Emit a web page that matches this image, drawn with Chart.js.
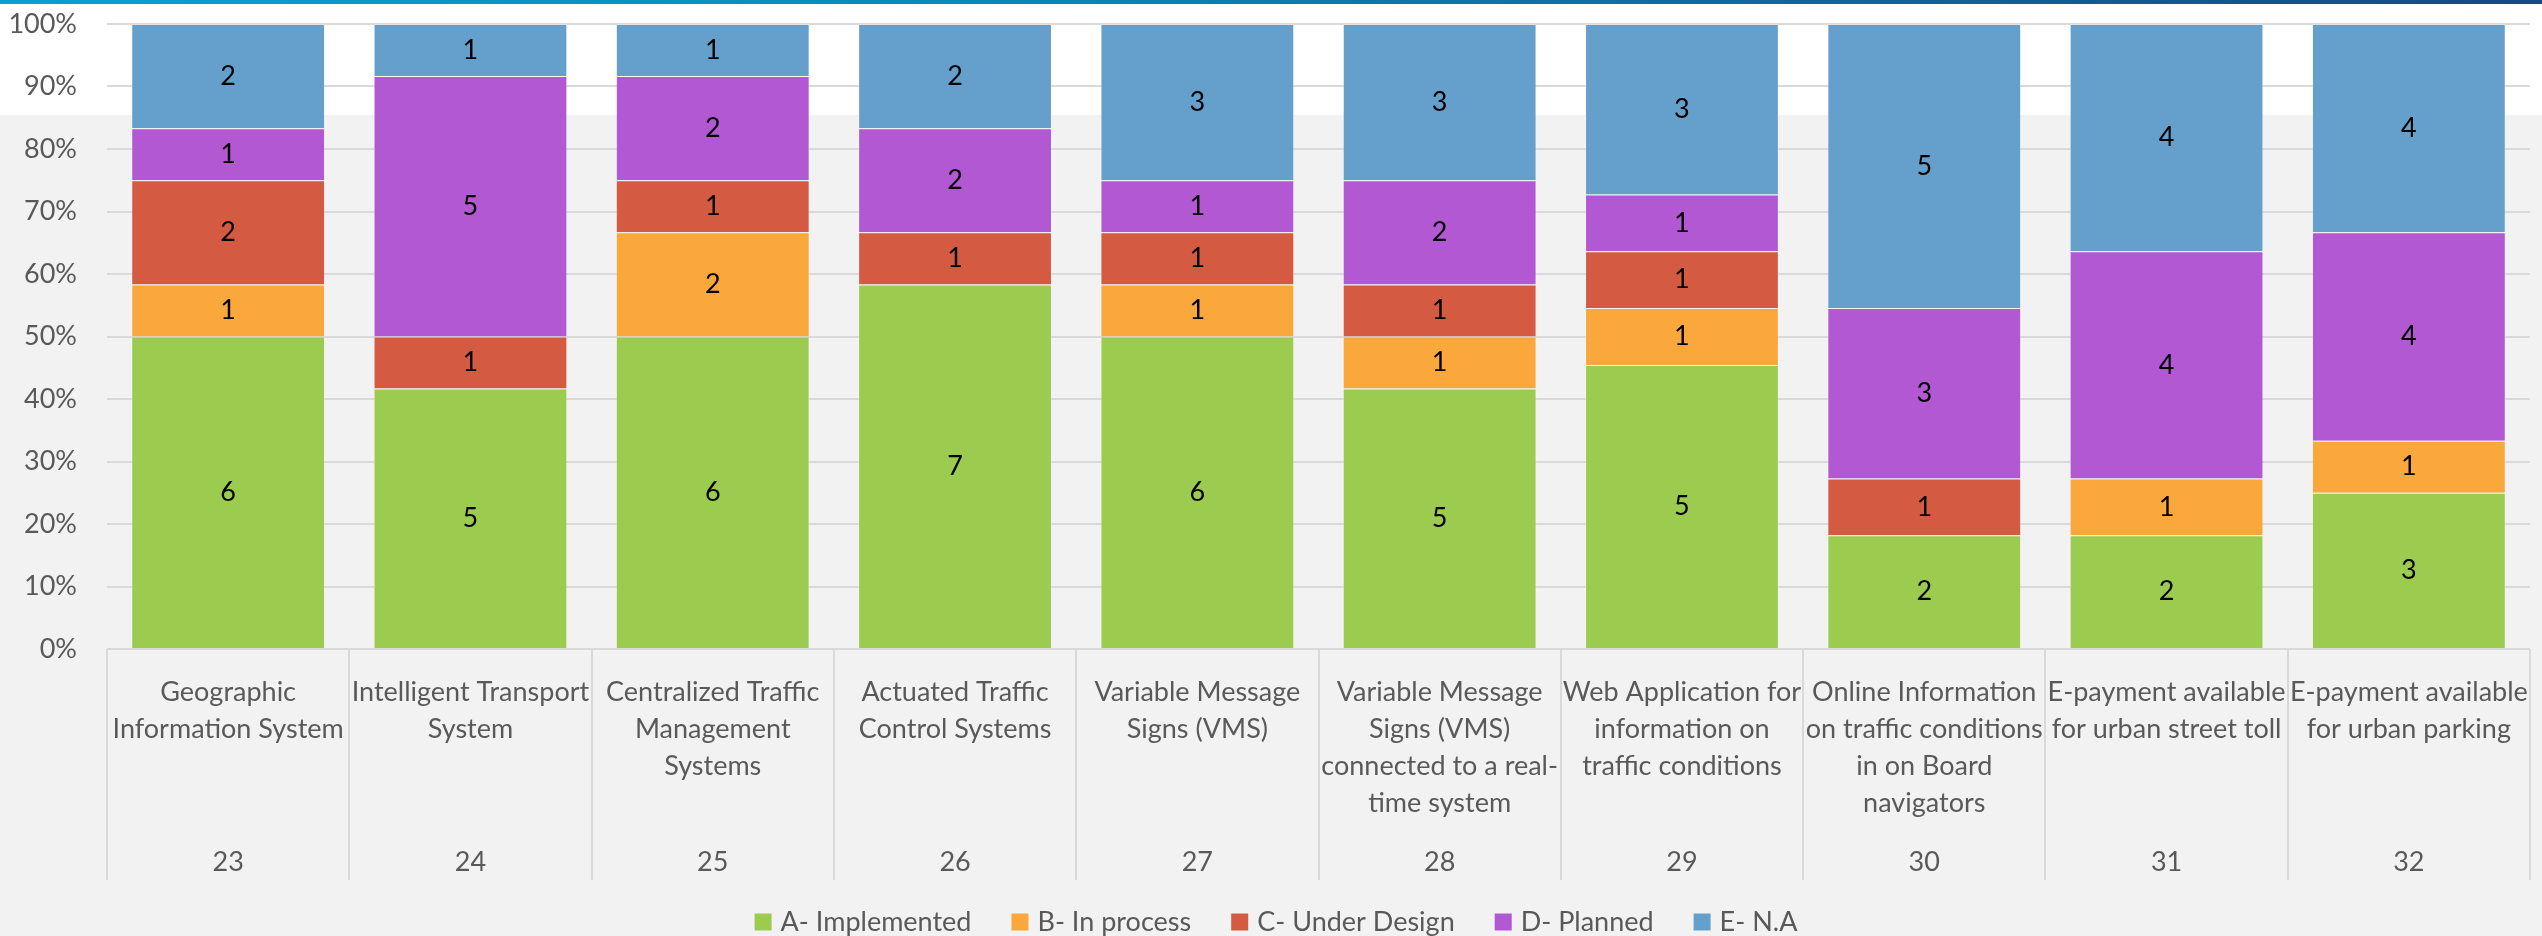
<!DOCTYPE html>
<html>
<head>
<meta charset="utf-8">
<title>Traffic systems status</title>
<script src="https://cdn.jsdelivr.net/npm/chart.js@4.4.1/dist/chart.umd.min.js"></script>
<style>
  html, body { margin: 0; padding: 0; }
  body {
    width: 2542px; height: 936px; overflow: hidden; position: relative;
    background: linear-gradient(to bottom, #ffffff 0, #ffffff 115px, #f2f2f2 115px, #f2f2f2 100%);
  }
  #topline {
    position: absolute; left: 0; top: 0; width: 100%; height: 4px;
    background: linear-gradient(to right, #0aa0d2, #0b8fc0 30%, #144a85);
  }
  #wrap { position: absolute; left: 0; top: 0; width: 2542px; height: 936px; }
</style>
</head>
<body>
<div id="topline"></div>
<div id="wrap"><canvas id="chart" width="2542" height="936"></canvas></div>
<script>
var numbers = ['23', '24', '25', '26', '27', '28', '29', '30', '31', '32'];
var names = [
	['Geographic', 'Information System'],
	['Intelligent Transport', 'System'],
	['Centralized Traffic', 'Management', 'Systems'],
	['Actuated Traffic', 'Control Systems'],
	['Variable Message', 'Signs (VMS)'],
	['Variable Message', 'Signs (VMS)', 'connected to a real-', 'time system'],
	['Web Application for', 'information on', 'traffic conditions'],
	['Online Information', 'on traffic conditions', 'in on Board', 'navigators'],
	['E-payment available', 'for urban street toll'],
	['E-payment available', 'for urban parking']
];

// number of answers per status
var implemented   = [6, 5, 6, 7, 6, 5, 5, 2, 2, 3];
var inProcess     = [1, 0, 2, 0, 1, 1, 1, 0, 1, 1];
var underDesign   = [2, 1, 1, 1, 1, 1, 1, 1, 0, 0];
var planned       = [1, 5, 2, 2, 1, 2, 1, 3, 4, 4];
var notApplicable = [2, 1, 1, 2, 3, 3, 3, 5, 4, 4];

var seriesNames = ['A- Implemented', 'B- In process', 'C- Under Design', 'D- Planned', 'E- N.A'];
var seriesColors = ['#9bcc4f', '#faa73c', '#d45a42', '#b158d2', '#64a0cb'];
var yTicks = [0, 10, 20, 30, 40, 50, 60, 70, 80, 90, 100];

var counts = [implemented, inProcess, underDesign, planned, notApplicable];
var FONT = 'Lato, "Noto Sans", sans-serif';

// share of each status within a category (100% stacked)
function toPercent(series) {
	return series.map(function(v, i) {
		var total = 0;
		counts.forEach(function(c) { total += c[i]; });
		return v / total * 100;
	});
}

var valueLabels = {
	id: 'valueLabels',
	afterDatasetsDraw: function(chart) {
		var ctx = chart.ctx;
		ctx.save();
		ctx.font = '27px ' + FONT;
		ctx.fillStyle = '#000';
		ctx.textAlign = 'center';
		ctx.textBaseline = 'middle';
		chart.data.datasets.forEach(function(ds, d) {
			chart.getDatasetMeta(d).data.forEach(function(bar, i) {
				var n = ds.counts[i];
				if (!n) return;
				ctx.fillText(String(n), bar.x, (bar.y + bar.base) / 2);
			});
		});
		ctx.restore();
	}
};

var categoryLabels = {
	id: 'categoryLabels',
	afterDraw: function(chart) {
		var ctx = chart.ctx;
		var x = chart.scales.x;
		var bottom = chart.chartArea.bottom;
		ctx.save();
		ctx.font = '27px ' + FONT;
		ctx.fillStyle = '#595959';
		ctx.textAlign = 'center';
		ctx.textBaseline = 'middle';
		names.forEach(function(lines, i) {
			var px = x.getPixelForValue(i);
			lines.forEach(function(t, k) {
				ctx.fillText(t, px, bottom + 43 + k * 37);
			});
			ctx.fillText(numbers[i], px, bottom + 213);
		});
		ctx.restore();
	}
};

var bottomLegend = {
	id: 'bottomLegend',
	afterDraw: function(chart) {
		var ctx = chart.ctx;
		var box = 17, gap = 9, spacing = 40;
		ctx.save();
		ctx.font = '27px ' + FONT;
		var widths = chart.data.datasets.map(function(ds) { return ctx.measureText(ds.label).width; });
		var total = 0;
		widths.forEach(function(w) { total += box + gap + w; });
		total += spacing * (widths.length - 1);
		var cx = chart.width / 2 + 5 - total / 2;
		var cy = 922;
		ctx.textBaseline = 'middle';
		ctx.textAlign = 'left';
		chart.data.datasets.forEach(function(ds, d) {
			ctx.fillStyle = ds.backgroundColor;
			ctx.fillRect(cx, cy - box / 2, box, box);
			ctx.fillStyle = '#595959';
			ctx.fillText(ds.label, cx + box + gap, cy);
			cx += box + gap + widths[d] + spacing;
		});
		ctx.restore();
	}
};

function draw() {
	var ctx = document.getElementById('chart').getContext('2d');
	var datasets = counts.map(function(series, s) {
		return {
			label: seriesNames[s],
			data: toPercent(series),
			counts: series,
			backgroundColor: seriesColors[s],
			borderColor: 'rgba(255,255,255,0.25)',
			borderWidth: 1,
			categoryPercentage: 0.8,
			barPercentage: 1.0
		};
	});

	new Chart(ctx, {
		type: 'bar',
		data: { labels: numbers, datasets: datasets },
		options: {
			responsive: false,
			animation: false,
			layout: { padding: { top: 24, right: 12, left: 0, bottom: 56 } },
			plugins: { legend: { display: false }, tooltip: { enabled: false } },
			scales: {
				x: {
					stacked: true,
					grid: { offset: true, drawOnChartArea: false, drawTicks: true, tickLength: 231, color: '#d9d9d9', lineWidth: 2 },
					border: { display: false },
					ticks: { display: false },
					afterFit: function(scale) { scale.height = 231; }
				},
				y: {
					stacked: true,
					min: 0,
					max: 100,
					afterBuildTicks: function(scale) { scale.ticks = yTicks.map(function(v) { return { value: v }; }); },
					afterFit: function(scale) {
						scale.width = 107;
						scale.paddingTop = 0;
						scale.paddingBottom = 0;
					},
					grid: { color: '#d9d9d9', lineWidth: 2, drawTicks: false },
					border: { display: false },
					ticks: {
						padding: 30,
						color: '#595959',
						font: { family: FONT, size: 27 },
						callback: function(v) { return v + '%'; }
					}
				}
			}
		},
		plugins: [valueLabels, categoryLabels, bottomLegend]
	});
}

draw();
</script>
</body>
</html>
